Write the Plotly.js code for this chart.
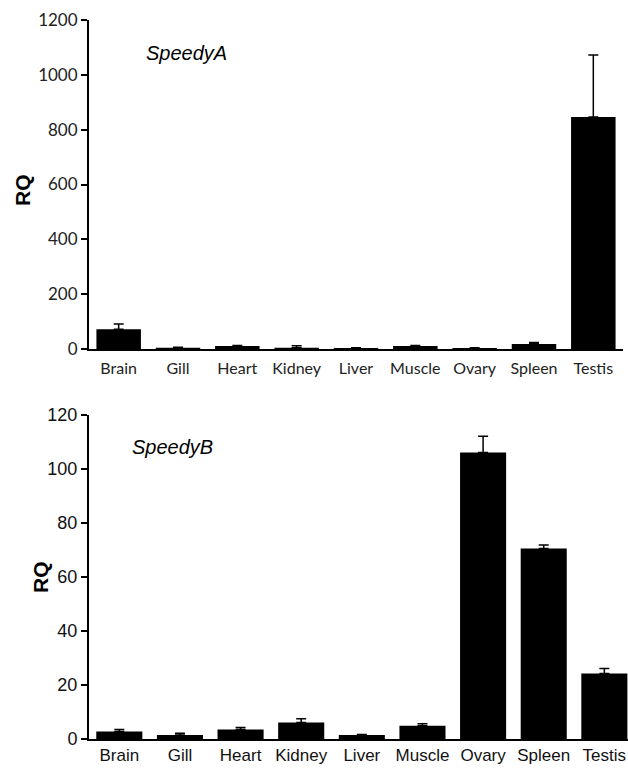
<!DOCTYPE html>
<html>
<head>
<meta charset="utf-8">
<script src="https://cdn.plot.ly/plotly-3.0.1.min.js"></script>
<style>html,body{margin:0;padding:0;background:#fff;}#chart{width:628px;height:771px;}</style>
</head>
<body>
<div id="chart"></div>
<script>
const tissues = ["Brain","Gill","Heart","Kidney","Liver","Muscle","Ovary","Spleen","Testis"];
const speedyA = [72, 5, 11, 5, 4, 11, 4, 18, 846];
const speedyAErr = [19, 1, 2, 7, 1, 2, 1, 6, 226];
const speedyB = [2.8, 1.5, 3.5, 6.1, 1.5, 4.9, 106, 70.5, 24.2];
const speedyBErr = [0.7, 0.6, 0.8, 1.4, 0.2, 0.7, 6, 1.3, 1.9];
const yTicksA = [0, 200, 400, 600, 800, 1000, 1200];
const yTicksB = [0, 20, 40, 60, 80, 100, 120];

const traces = [
  {type:'bar', x:tissues, y:speedyA, xaxis:'x', yaxis:'y', width:0.75,
   marker:{color:'#000', line:{width:0}},
   error_y:{type:'data', symmetric:false, array:speedyAErr, arrayminus:speedyA.map(()=>0), color:'#000', thickness:1.5, width:5}},
  {type:'bar', x:tissues, y:speedyB, xaxis:'x2', yaxis:'y2', width:0.76,
   marker:{color:'#000', line:{width:0}},
   error_y:{type:'data', symmetric:false, array:speedyBErr, arrayminus:speedyB.map(()=>0), color:'#000', thickness:1.5, width:5}}
];

const layout = {
  width:628, height:771,
  margin:{l:89, r:0, t:20, b:32},
  paper_bgcolor:'#fff', plot_bgcolor:'#fff',
  showlegend:false,
  xaxis:{domain:[0,0.9907], range:[-0.5,8.5], anchor:'y', showline:true, linecolor:'#000', linewidth:2,
         ticks:'', showgrid:false, zeroline:false, ticklabelstandoff:4,
         tickfont:{family:'Lato, "Open Sans", sans-serif', size:16, color:'#222'}},
  yaxis:{domain:[0.5424,1], range:[0,1200], anchor:'x', tickvals:yTicksA, showline:true, linecolor:'#000', linewidth:2,
         ticks:'outside', ticklen:6, tickwidth:2, tickcolor:'#000', showgrid:false, zeroline:false,
         tickfont:{family:'Lato, "Open Sans", sans-serif', size:17, color:'#222'}},
  xaxis2:{domain:[0,1], range:[-0.5,8.39], anchor:'y2', showline:true, linecolor:'#000', linewidth:2,
         ticks:'', showgrid:false, zeroline:false, ticklabelstandoff:0,
         tickfont:{family:'"Liberation Sans", Arial, sans-serif', size:17, color:'#111'}},
  yaxis2:{domain:[0,0.451], range:[0,120], anchor:'x2', tickvals:yTicksB, showline:true, linecolor:'#000', linewidth:2,
         ticks:'outside', ticklen:6, tickwidth:2, tickcolor:'#000', showgrid:false, zeroline:false,
         tickfont:{family:'"Liberation Sans", Arial, sans-serif', size:18, color:'#111'}},
  annotations:[
    {text:'<i>SpeedyA</i>', xref:'paper', yref:'paper', x:0.18, y:0.9541, xanchor:'center', yanchor:'middle', showarrow:false,
     font:{family:'"Liberation Sans", Arial, sans-serif', size:20, color:'#000'}},
    {text:'<i>SpeedyB</i>', xref:'paper', yref:'paper', x:0.1558, y:0.4061, xanchor:'center', yanchor:'middle', showarrow:false,
     font:{family:'"Liberation Sans", Arial, sans-serif', size:20, color:'#000'}},
    {text:'<b>RQ</b>', xref:'paper', yref:'paper', x:-0.1224, y:0.7636, xanchor:'center', yanchor:'middle', textangle:-90, showarrow:false,
     font:{family:'"Liberation Sans", Arial, sans-serif', size:21, color:'#000'}},
    {text:'<b>RQ</b>', xref:'paper', yref:'paper', x:-0.0909, y:0.2253, xanchor:'center', yanchor:'middle', textangle:-90, showarrow:false,
     font:{family:'"Liberation Sans", Arial, sans-serif', size:21, color:'#000'}}
  ]
};

Plotly.newPlot('chart', traces, layout, {displayModeBar:false, staticPlot:true});
</script>
</body>
</html>
